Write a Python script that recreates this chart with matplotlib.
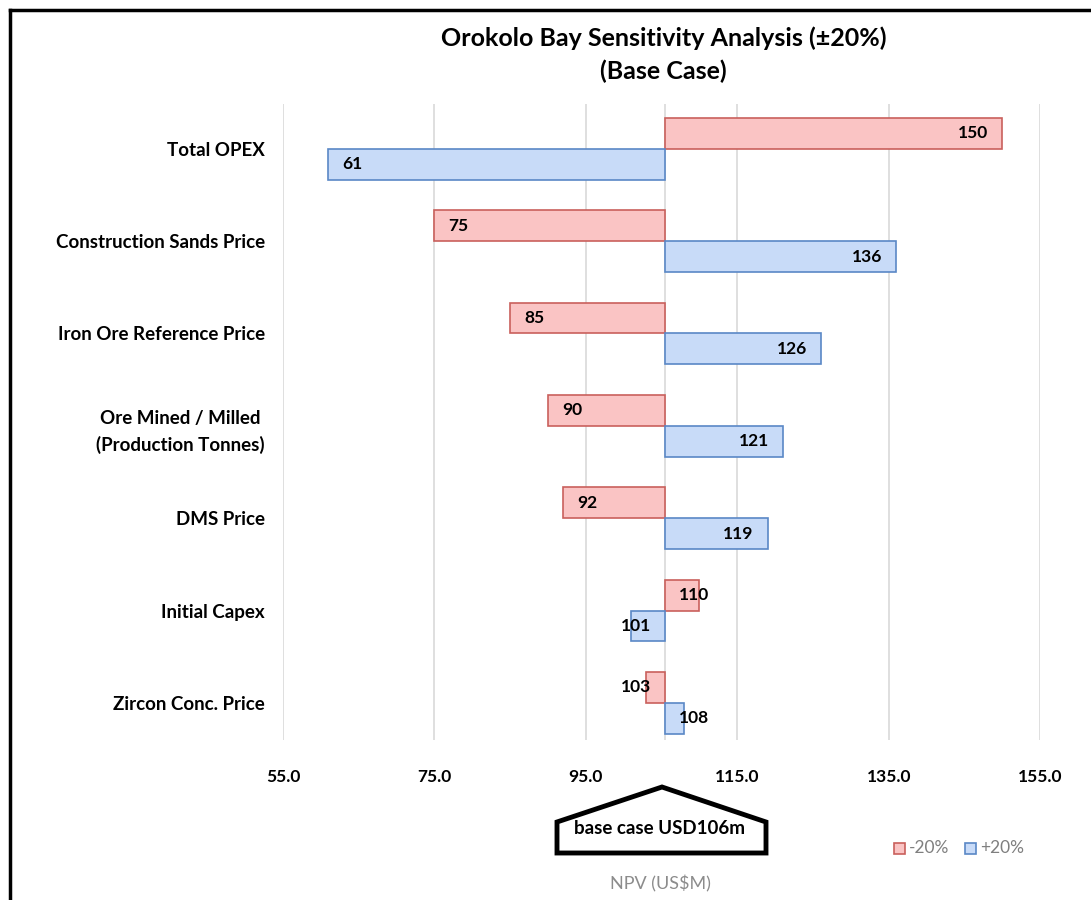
import numpy as np
import matplotlib
matplotlib.use('Agg')
import matplotlib.pyplot as plt
from matplotlib.patches import Polygon, Rectangle
from matplotlib.lines import Line2D

plt.rcParams['font.family'] = ['Lato', 'DejaVu Sans']

# data
categories = ['Total OPEX', 'Construction Sands Price', 'Iron Ore Reference Price',
              'Ore Mined / Milled \n(Production Tonnes)', 'DMS Price', 'Initial Capex',
              'Zircon Conc. Price']
minus20 = [150, 75, 85, 90, 92, 110, 103]
plus20 = [61, 136, 126, 121, 119, 101, 108]
base_npv = 105.4
xticks = [55.0, 75.0, 95.0, 115.0, 135.0, 155.0]

red_face, red_edge = '#fac4c4', '#c9605c'
blue_face, blue_edge = '#c8dbf8', '#5a88c6'

fig = plt.figure(figsize=(10.91, 9), dpi=100)
ax = fig.add_axes([0.2594, 0.178, 0.694, 0.707])

y = np.arange(len(categories))
h = 0.335
ax.barh(y - h / 2, np.array(minus20) - base_npv, left=base_npv, height=h,
        color=red_face, edgecolor=red_edge, linewidth=1.2, zorder=3)
ax.barh(y + h / 2, np.array(plus20) - base_npv, left=base_npv, height=h,
        color=blue_face, edgecolor=blue_edge, linewidth=1.2, zorder=3)


def label(v, yy):
    w = v - base_npv
    if w >= 0:
        if w > 6:
            ax.annotate(str(v), (v, yy), xytext=(-10, 0), textcoords='offset points',
                        ha='right', va='center', fontsize=12.5, fontweight='bold', zorder=5)
        else:
            ax.annotate(str(v), (base_npv, yy), xytext=(10, 0), textcoords='offset points',
                        ha='left', va='center', fontsize=12.5, fontweight='bold', zorder=5)
    else:
        if -w > 6:
            ax.annotate(str(v), (v, yy), xytext=(10, 0), textcoords='offset points',
                        ha='left', va='center', fontsize=12.5, fontweight='bold', zorder=5)
        else:
            ax.annotate(str(v), (base_npv, yy), xytext=(-10, 0), textcoords='offset points',
                        ha='right', va='center', fontsize=12.5, fontweight='bold', zorder=5)


for i in range(len(categories)):
    label(minus20[i], y[i] - h / 2)
    label(plus20[i], y[i] + h / 2)

ax.set_xlim(55, 155)
ax.set_ylim(6.4, -0.49)
ax.set_xticks(xticks)
ax.set_xticklabels(['%.1f' % t for t in xticks], fontsize=12.5, fontweight='bold')
ax.set_yticks(y)
ax.set_yticklabels(categories, fontsize=13.5, fontweight='bold', linespacing=1.6)
ax.tick_params(length=0)
ax.tick_params(axis='y', pad=13)
ax.tick_params(axis='x', pad=21)
ax.grid(axis='x', color='#d9d9d9', linewidth=1.2, zorder=0)
ax.axvline(base_npv, color='#d9d9d9', linewidth=1.2, zorder=1)
for s in ax.spines.values():
    s.set_visible(False)

fig.text(0.608, 0.958, 'Orokolo Bay Sensitivity Analysis (±20%)', ha='center', va='center',
         fontsize=18, fontweight='bold')
fig.text(0.608, 0.921, '(Base Case)', ha='center', va='center', fontsize=18, fontweight='bold')

# base case marker
W, H = 1091.0, 900.0
pts = [(557, 822), (662, 787), (766, 822), (766, 853), (557, 853)]
fig.patches.append(Polygon([(px / W, 1 - py / H) for px, py in pts], closed=True,
                           transform=fig.transFigure, fill=False, edgecolor='black',
                           linewidth=3.5))
fig.text(660 / W, 1 - 829 / H, 'base case USD106m', ha='center', va='center',
         fontsize=13.5, fontweight='bold')

# legend
for x0, fc, ec, txt in [(894, red_face, red_edge, '-20%'), (965, blue_face, blue_edge, '+20%')]:
    fig.patches.append(Rectangle((x0 / W, 1 - 854 / H), 11 / W, 11 / H,
                                 transform=fig.transFigure, facecolor=fc, edgecolor=ec,
                                 linewidth=1.2))
    fig.text((x0 + 15) / W, 1 - 848 / H, txt, ha='left', va='center', fontsize=12.5,
             color='#7f7f7f')

fig.text(660 / W, 1 - 884 / H, 'NPV (US$M)', ha='center', va='center', fontsize=13,
         color='#8c8c8c')

# frame
fig.add_artist(Line2D([10 / W, 1], [1 - 10 / H, 1 - 10 / H], transform=fig.transFigure,
                      color='black', linewidth=2.5))
fig.add_artist(Line2D([10 / W, 10 / W], [1 - 10 / H, 0], transform=fig.transFigure,
                      color='black', linewidth=2.5))

fig.savefig('out.png', dpi=100)
